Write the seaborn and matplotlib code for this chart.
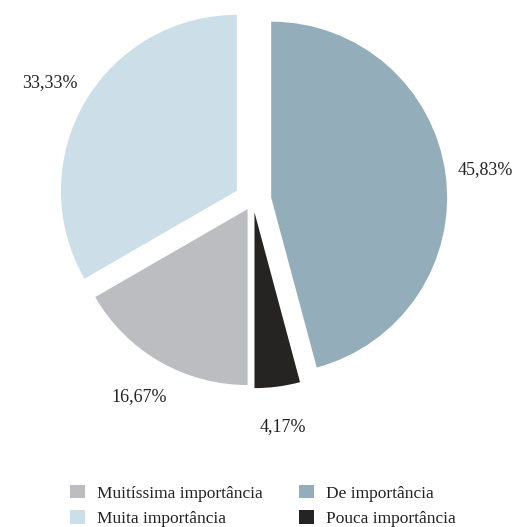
import matplotlib
matplotlib.use("Agg")
import matplotlib.pyplot as plt
import seaborn as sns
from matplotlib.patches import Patch

sns.set_theme(style="white")
plt.rcParams["font.family"] = ["Liberation Serif", "DejaVu Serif"]

# Dados (sentido horário a partir do topo)
categorias = ["De importância", "Pouca importância",
              "Muitíssima importância", "Muita importância"]
valores = [45.83, 4.17, 16.67, 33.33]
cores = ["#93aeba", "#252422", "#bcbdc1", "#ccdfe8"]
afastamento = [0.105, 0.07, 0.06, 0.105]

fig = plt.figure(figsize=(5.15, 5.27), dpi=100)
ax = fig.add_axes([0.064, 0.203, 0.854, 0.835])

fatias, textos, pcts = ax.pie(
    valores,
    colors=cores,
    explode=afastamento,
    startangle=90,
    counterclock=False,
    autopct=lambda p: f"{p:.2f}%".replace(".", ","),
    pctdistance=1.23,
    wedgeprops=dict(linewidth=0),
    textprops=dict(fontsize=13, color="#222222"),
)
ax.set_xlim(-1.25, 1.25)
ax.set_ylim(-1.25, 1.25)
ax.set_aspect("equal")

# Legenda em duas colunas
ordem = [2, 3, 0, 1]
handles = [Patch(facecolor=cores[i], edgecolor="none") for i in ordem]
fig.legend(
    handles,
    [categorias[i] for i in ordem],
    ncol=2,
    loc="center",
    bbox_to_anchor=(0.51, 0.04),
    frameon=False,
    fontsize=12.5,
    handlelength=0.85,
    handleheight=0.85,
    handletextpad=0.7,
    columnspacing=2.1,
    labelspacing=0.5,
    labelcolor="#222222",
)

fig.savefig("out.png", dpi=100)
